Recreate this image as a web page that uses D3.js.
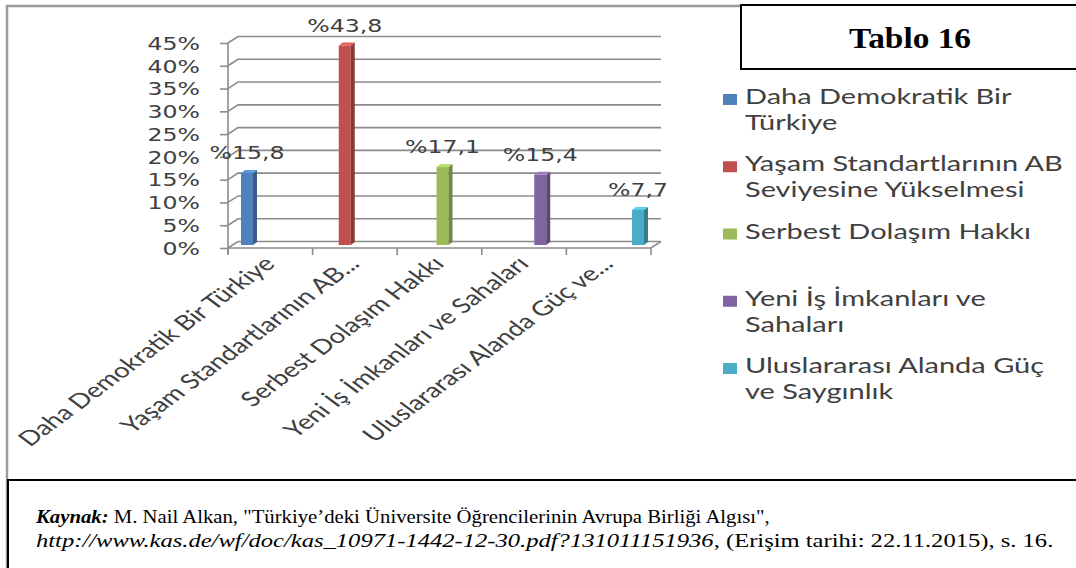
<!DOCTYPE html>
<html>
<head>
<meta charset="utf-8">
<script src="https://cdn.jsdelivr.net/npm/d3@7"></script>
<style>
  body { margin: 0; background: #fff; }
  svg { display: block; }
</style>
</head>
<body>
<script>
// chart values
var categories = ["Daha Demokratik Bir Türkiye", "Yaşam Standartlarının AB...", "Serbest Dolaşım Hakkı",
                  "Yeni İş İmkanları ve Sahaları", "Uluslararası Alanda Güç ve..."];
var values = [15.8, 43.8, 17.1, 15.4, 7.7];
var colors = ["#4f81bd", "#c0504d", "#9bbb59", "#8064a2", "#4bacc6"];
var yTicks = [0, 5, 10, 15, 20, 25, 30, 35, 40, 45];
var legendLines = [["Daha Demokratik Bir", "Türkiye"],
                   ["Yaşam Standartlarının AB", "Seviyesine Yükselmesi"],
                   ["Serbest Dolaşım Hakkı"],
                   ["Yeni İş İmkanları ve", "Sahaları"],
                   ["Uluslararası Alanda Güç", "ve Saygınlık"]];
var titleText = "Tablo 16";

var W = 1076, H = 568,
    SX = 1.35,          // the picture is stretched sideways
    depth = {x: 10, y: -6.5},
    sans = "'DejaVu Sans', Verdana, sans-serif",
    legendFont = "Lato, 'Open Sans', sans-serif",
    serif = "'Liberation Serif', 'Times New Roman', serif";

var svg = d3.select("body").append("svg")
    .attr("width", W)
    .attr("height", H);

//outer frame of the chart
svg.append("path")
    .attr("d", "M7,568 V6 H745")
    .attr("fill", "none")
    .attr("stroke", "#9a9a9a")
    .attr("stroke-width", 2.5);

//scales
var y = d3.scaleLinear().domain([0, 45]).range([248, 43]);
var xBand = d3.scaleBand().domain(categories).range([228, 651]);
var xBar = d3.scalePoint().domain(categories).range([249, 640]);

var x0 = xBand.range()[0], x1 = xBand.range()[1];

//back wall grid lines plus the little diagonals on the side wall
var grid = svg.append("g").attr("stroke", "#8c8c8c").attr("stroke-width", 1.6).attr("fill", "none");
yTicks.forEach(function(t){
    grid.append("path")
        .attr("d", "M" + x0 + "," + y(t) + " L" + (x0 + depth.x) + "," + (y(t) + depth.y) + " H" + (x1 + depth.x));
});
//floor
grid.append("path")
    .attr("d", "M" + x0 + "," + y(0) + " H" + x1 + " L" + (x1 + depth.x) + "," + (y(0) + depth.y));

//y axis
var yAxis = d3.axisLeft(y)
    .tickValues(yTicks)
    .tickSize(8)
    .tickSizeOuter(0)
    .tickFormat(function(d){ return d + "%"; });

var ga = svg.append("g")
    .attr("transform", "translate(" + x0 + ",0)")
    .call(yAxis);
ga.select(".domain").attr("stroke", "#8c8c8c").attr("stroke-width", 1.6)
    .attr("d", "M0," + y(45) + "V" + (y(0) + 6));
ga.selectAll(".tick line").attr("stroke", "#8c8c8c").attr("stroke-width", 1.6);
ga.selectAll(".tick text")
    .attr("x", 0)
    .attr("dy", "0.36em")
    .attr("transform", "translate(-28,0) scale(" + SX + ",1)")
    .attr("fill", "#404040")
    .style("font-family", sans)
    .style("font-size", "17.5px");

//x ticks hanging below the floor
var xTickPos = categories.map(function(c){ return xBand(c); }).concat([x1]);
svg.append("g").selectAll("line")
    .data(xTickPos)
    .enter().append("line")
    .attr("x1", function(d){ return d; })
    .attr("x2", function(d){ return d; })
    .attr("y1", y(0))
    .attr("y2", y(0) + 7)
    .attr("stroke", "#8c8c8c")
    .attr("stroke-width", 1.6);

//category labels, tilted
svg.append("g").selectAll("text")
    .data(categories)
    .enter().append("text")
    .attr("transform", function(d){
        return "translate(" + (xBand(d) + xBand.bandwidth() / 2 + 6) + "," + (y(0) + 17) + ") scale(" + SX + ",1) rotate(-45)";
    })
    .attr("text-anchor", "end")
    .attr("fill", "#404040")
    .style("font-family", legendFont)
    .style("font-size", "20.5px")
    .text(function(d){ return d; });

//bars, drawn as little 3d columns
var bw = 12, side = 4, lift = 3;
var bars = svg.append("g").selectAll("g")
    .data(values)
    .enter().append("g");

bars.append("rect")
    .attr("x", function(d, i){ return xBar(categories[i]) - 8; })
    .attr("y", function(d){ return y(d) - lift; })
    .attr("width", bw)
    .attr("height", function(d){ return y(0) - y(d); })
    .attr("fill", function(d, i){ return colors[i]; });

bars.append("path")
    .attr("d", function(d, i){
        var l = xBar(categories[i]) + 4, t = y(d) - lift, b = y(0) - lift;
        return "M" + l + "," + t + " L" + (l + side) + "," + (t - lift) + " V" + (b - lift) + " L" + l + "," + b + "Z";
    })
    .attr("fill", function(d, i){ return d3.color(colors[i]).darker(0.9); });

bars.append("path")
    .attr("d", function(d, i){
        var l = xBar(categories[i]) - 8, t = y(d) - lift;
        return "M" + l + "," + t + " H" + (l + bw) + " L" + (l + bw + side) + "," + (t - lift) + " H" + (l + side) + "Z";
    })
    .attr("fill", function(d, i){ return d3.color(colors[i]).brighter(0.5); });

//value labels
var fmt = d3.formatLocale({decimal: ",", thousands: ".", grouping: [3], currency: ["", ""]}).format(".1f");
bars.append("text")
    .attr("transform", function(d, i){
        var cy = Math.max(y(d) - lift - 20, 23);
        return "translate(" + (xBar(categories[i]) - 2) + "," + cy + ") scale(" + SX + ",1)";
    })
    .attr("dy", "0.36em")
    .attr("text-anchor", "middle")
    .attr("fill", "#404040")
    .style("font-family", sans)
    .style("font-size", "17.5px")
    .text(function(d){ return "%" + fmt(d); });

//legend
var legY = d3.scalePoint().domain(d3.range(legendLines.length)).range([104, 373]);
var leg = svg.append("g").selectAll("g")
    .data(legendLines)
    .enter().append("g")
    .attr("transform", function(d, i){ return "translate(723," + legY(i) + ")"; });

leg.append("rect")
    .attr("x", 0)
    .attr("y", -10)
    .attr("width", 14)
    .attr("height", 11)
    .attr("fill", function(d, i){ return colors[i]; });

leg.append("text")
    .attr("transform", "translate(22,0) scale(1.38,1)")
    .attr("fill", "#404040")
    .style("font-family", legendFont)
    .style("font-size", "21px")
    .selectAll("tspan")
    .data(function(d){ return d; })
    .enter().append("tspan")
    .attr("x", 0)
    .attr("dy", function(d, i){ return i ? 26 : 0; })
    .text(function(d){ return d; });

//title box
svg.append("rect")
    .attr("x", 741)
    .attr("y", 5)
    .attr("width", 345)
    .attr("height", 64)
    .attr("fill", "#fff")
    .attr("stroke", "#000")
    .attr("stroke-width", 2);

svg.append("text")
    .attr("transform", "translate(910,48) scale(1.15,1)")
    .attr("text-anchor", "middle")
    .style("font-family", serif)
    .style("font-size", "29px")
    .style("font-weight", "bold")
    .text(titleText);

//source box
svg.append("path")
    .attr("d", "M8,568 V480 H1076")
    .attr("fill", "#fff")
    .attr("stroke", "#000")
    .attr("stroke-width", 2);

var src = svg.append("g")
    .style("font-family", serif)
    .style("font-size", "18px")
    .attr("fill", "#000");

var l1 = src.append("text");
l1.append("tspan").style("font-weight", "bold").style("font-style", "italic").text("Kaynak:");
l1.append("tspan").text(" M. Nail Alkan, \"Türkiye’deki Üniversite Öğrencilerinin Avrupa Birliği Algısı\",");

var l2 = src.append("text");
l2.append("tspan").style("font-style", "italic").text("http://www.kas.de/wf/doc/kas_10971-1442-12-30.pdf?131011151936");
l2.append("tspan").text(", (Erişim tarihi: 22.11.2015), s. 16.");

//fit each source line to the width it takes in the picture
[[l1, 523, 770], [l2, 547, 1054]].forEach(function(r){
    var len = r[0].node().getComputedTextLength();
    r[0].attr("transform", "translate(36," + r[1] + ") scale(" + ((r[2] - 36) / len) + ",1)");
});
</script>
</body>
</html>
